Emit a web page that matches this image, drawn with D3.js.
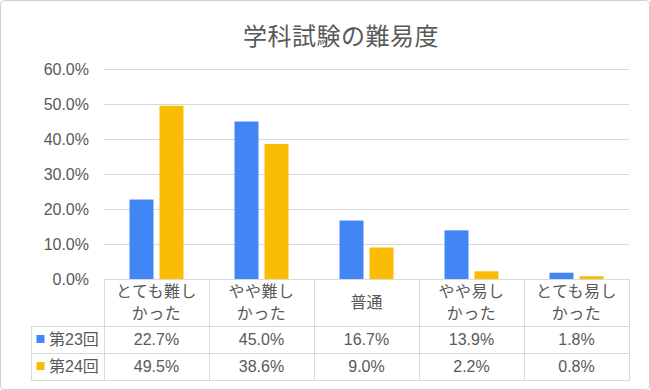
<!DOCTYPE html>
<html>
<head>
<meta charset="utf-8">
<script src="https://cdn.jsdelivr.net/npm/d3@7"></script>
<style>
  body { margin: 0; background: #fff; }
  svg { display: block; font-family: "Liberation Sans", Arial, "Noto Sans CJK JP", sans-serif; }
</style>
</head>
<body>
<svg width="650" height="390"></svg>
<script>
// data
const title = "学科試験の難易度";
const categories = [["とても難し", "かった"], ["やや難し", "かった"], ["普通"], ["やや易し", "かった"], ["とても易し", "かった"]];
const seriesNames = ["第23回", "第24回"];
const values23 = [22.7, 45.0, 16.7, 13.9, 1.8];
const values24 = [49.5, 38.6, 9.0, 2.2, 0.8];
const yTicks = [0, 10, 20, 30, 40, 50, 60];
const colors = ["#4285f4", "#fbbc04"];

const seriesValues = [values23, values24];
const textColor = "#595959";
const lineColor = "#d9d9d9";

const svg = d3.select("svg");

// outer frame
svg.append("rect")
    .attr("x", 0.5).attr("y", 0.5)
    .attr("width", 649).attr("height", 389)
    .attr("rx", 4)
    .attr("fill", "#fff")
    .attr("stroke", "#d0d0d0");

// title
svg.append("text")
    .attr("x", 341).attr("y", 45)
    .attr("text-anchor", "middle")
    .attr("font-size", 24)
    .attr("letter-spacing", 0.5)
    .attr("font-family", "'Noto Sans CJK JP', sans-serif")
    .attr("fill", textColor)
    .text(title);

const plotLeft = 104, plotRight = 629, plotTop = 69, plotBottom = 279;
const tableLeft = 31.5;
const rowLines = [326, 353, 380];

const x0 = d3.scaleBand()
    .domain(d3.range(categories.length))
    .range([plotLeft, plotRight]);

const x1 = d3.scaleBand()
    .domain(seriesNames)
    .range([25.5, 79.5])
    .paddingInner(0.2);

const y = d3.scaleLinear().domain([0, 60]).range([plotBottom, plotTop]);

// gridlines
svg.append("g")
    .selectAll("line")
    .data(yTicks.slice(1))
    .join("line")
    .attr("x1", plotLeft).attr("x2", plotRight)
    .attr("y1", d => Math.round(y(d)) + 0.5)
    .attr("y2", d => Math.round(y(d)) + 0.5)
    .attr("stroke", lineColor);

// y tick labels
svg.append("g")
    .selectAll("text")
    .data(yTicks)
    .join("text")
    .attr("x", 89)
    .attr("y", d => y(d))
    .attr("dy", "0.35em")
    .attr("text-anchor", "end")
    .attr("font-size", 16)
    .attr("fill", textColor)
    .text(d => d.toFixed(1) + "%");

// bars
seriesNames.forEach((name, si) => {
    svg.append("g")
        .selectAll("rect")
        .data(seriesValues[si])
        .join("rect")
        .attr("x", (d, i) => x0(i) + x1(name))
        .attr("width", x1.bandwidth())
        .attr("y", d => y(d))
        .attr("height", d => y(0) - y(d))
        .attr("fill", colors[si]);
});

// data table
const table = svg.append("g").attr("stroke", lineColor).attr("fill", "none");
// top axis line
table.append("line")
    .attr("x1", plotLeft).attr("x2", plotRight)
    .attr("y1", plotBottom + 0.5).attr("y2", plotBottom + 0.5);
// horizontal row lines
rowLines.forEach(ry => {
    table.append("line")
        .attr("x1", tableLeft).attr("x2", plotRight)
        .attr("y1", ry + 0.5).attr("y2", ry + 0.5);
});
// vertical lines
d3.range(categories.length + 1).forEach(i => {
    const xx = i < categories.length ? x0(i) : plotRight;
    table.append("line")
        .attr("x1", xx + 0.5).attr("x2", xx + 0.5)
        .attr("y1", plotBottom).attr("y2", rowLines[2] + 1);
});
table.append("line")
    .attr("x1", tableLeft).attr("x2", tableLeft)
    .attr("y1", rowLines[0]).attr("y2", rowLines[2] + 1);

// category labels
const catG = svg.append("g");
categories.forEach((lines, i) => {
    const cx = x0(i) + x0.bandwidth() / 2;
    const midY = (plotBottom + rowLines[0]) / 2;
    lines.forEach((s, li) => {
        catG.append("text")
            .attr("x", cx)
            .attr("y", midY + (li - (lines.length - 1) / 2) * 22)
            .attr("dy", "0.35em")
            .attr("text-anchor", "middle")
            .attr("font-size", 16)
            .attr("letter-spacing", lines.length > 1 ? 0.5 : 0)
            .attr("fill", textColor)
            .text(s);
    });
});

// series rows
seriesNames.forEach((name, si) => {
    const cy = (rowLines[si] + rowLines[si + 1]) / 2;
    svg.append("rect")
        .attr("x", 36.5).attr("y", cy - 4.5)
        .attr("width", 8).attr("height", 8)
        .attr("fill", colors[si]);
    svg.append("text")
        .attr("x", 49).attr("y", cy)
        .attr("dy", "0.35em")
        .attr("font-size", 16)
        .attr("fill", textColor)
        .text(name);
    svg.append("g")
        .selectAll("text")
        .data(seriesValues[si])
        .join("text")
        .attr("x", (d, i) => x0(i) + x0.bandwidth() / 2)
        .attr("y", cy)
        .attr("dy", "0.35em")
        .attr("text-anchor", "middle")
        .attr("font-size", 16)
        .attr("fill", textColor)
        .text(d => d.toFixed(1) + "%");
});
</script>
</body>
</html>
